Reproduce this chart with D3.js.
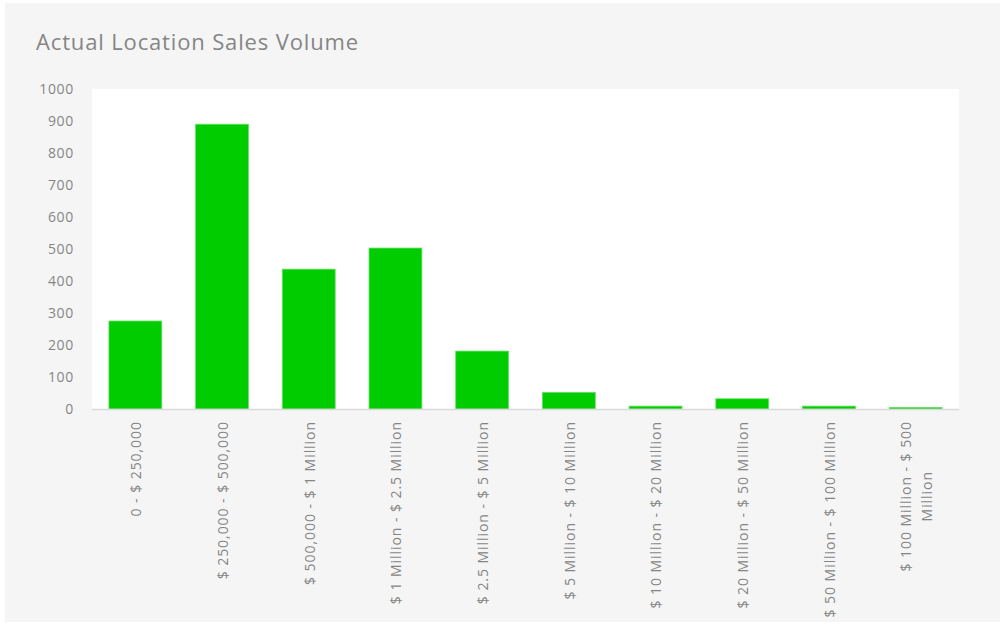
<!DOCTYPE html>
<html>
<head>
<meta charset="utf-8">
<script src="https://cdn.jsdelivr.net/npm/d3@7"></script>
<style>
  html, body { margin: 0; padding: 0; background: #ffffff; }
  svg { display: block; }
  text { font-family: "Open Sans", "Liberation Sans", sans-serif; fill: #858585; }
</style>
</head>
<body>
<svg id="chart" width="1005" height="626"></svg>
<script>
// Sales volume ranges and number of locations in each
const categories = [
  "0 - $ 250,000",
  "$ 250,000 - $ 500,000",
  "$ 500,000 - $ 1 Million",
  "$ 1 Million - $ 2.5 Million",
  "$ 2.5 Million - $ 5 Million",
  "$ 5 Million -  $ 10 Million",
  "$ 10 Million - $ 20 Million",
  "$ 20 Million - $ 50 Million",
  "$ 50 Million - $ 100 Million",
  "$ 100 Million - $ 500|Million"
];
const counts = [275, 890, 437, 503, 181, 52, 9, 32, 9, 5];
const yTicks = [0, 100, 200, 300, 400, 500, 600, 700, 800, 900, 1000];
const title = "Actual Location Sales Volume";

const svg = d3.select("#chart");
const W = 1005, H = 626;

// Chart background panel
svg.append("rect")
  .attr("x", 5).attr("y", 3)
  .attr("width", W - 10).attr("height", H - 7)
  .attr("fill", "#f5f5f5");

const plot = { left: 92, right: 959, top: 89, bottom: 409 };

// Plot area
svg.append("rect")
  .attr("x", plot.left).attr("y", plot.top)
  .attr("width", plot.right - plot.left).attr("height", plot.bottom - plot.top)
  .attr("fill", "#ffffff");

const x = d3.scaleBand()
  .domain(categories)
  .range([plot.left, plot.right])
  .paddingInner(0.39)
  .paddingOuter(0.195);

const y = d3.scaleLinear()
  .domain([0, 1000])
  .range([plot.bottom, plot.top]);

// Title
svg.append("text")
  .attr("x", 36).attr("y", 50)
  .attr("font-size", 22)
  .attr("letter-spacing", 0.85)
  .attr("fill", "#7d7d7d")
  .text(title);

// Y axis labels
const yAxis = d3.axisLeft(y).tickValues(yTicks).tickSize(0).tickPadding(18).tickFormat(d3.format("d"));
const gy = svg.append("g").attr("transform", `translate(${plot.left},0)`).call(yAxis);
gy.select(".domain").remove();
gy.selectAll("text")
  .attr("font-size", 14)
  .attr("letter-spacing", 0.7)
  .attr("fill", "#858585")
  .style("font-family", "'Open Sans', sans-serif");

// Bars
svg.append("g").selectAll("rect")
  .data(counts)
  .join("rect")
  .attr("x", (d, i) => x(categories[i]))
  .attr("y", d => y(d))
  .attr("width", x.bandwidth())
  .attr("height", d => y(0) - y(d))
  .attr("fill", "#00cc00")
  .attr("stroke", "#66e066")
  .attr("stroke-width", 0.8);

// Category axis
const xAxis = d3.axisBottom(x).tickSize(0).tickFormat(() => "");
const gx = svg.append("g").attr("transform", `translate(0,${plot.bottom})`).call(xAxis);
gx.select(".domain").attr("stroke", "#d9d9d9").attr("stroke-width", 1.3)
  .attr("d", `M${plot.left},0.5H${plot.right}`);

// Rotated category labels (wrapped at "|")
const labels = svg.append("g");
categories.forEach(c => {
  const lines = c.split("|");
  const cx = x(c) + x.bandwidth() / 2 + 1;
  const lineGap = 21;
  const g = labels.append("g")
    .attr("transform", `translate(${cx},421) rotate(-90)`);
  const t = g.append("text")
    .attr("font-size", 14)
    .attr("letter-spacing", 0.95)
    .attr("fill", "#858585");
  lines.forEach((l, i) => {
    const offset = (i - (lines.length - 1) / 2) * lineGap;
    t.append("tspan")
      .attr("y", offset)
      .attr("dy", "0.35em")
      .text(l);
  });
  // Align the block's end at the axis, centre shorter lines on the longest one
  const spans = t.selectAll("tspan").nodes();
  const widths = spans.map(s => s.getComputedTextLength());
  const maxW = d3.max(widths);
  spans.forEach((s, i) => {
    d3.select(s).attr("x", -maxW / 2 - widths[i] / 2);
  });
});
</script>
</body>
</html>
